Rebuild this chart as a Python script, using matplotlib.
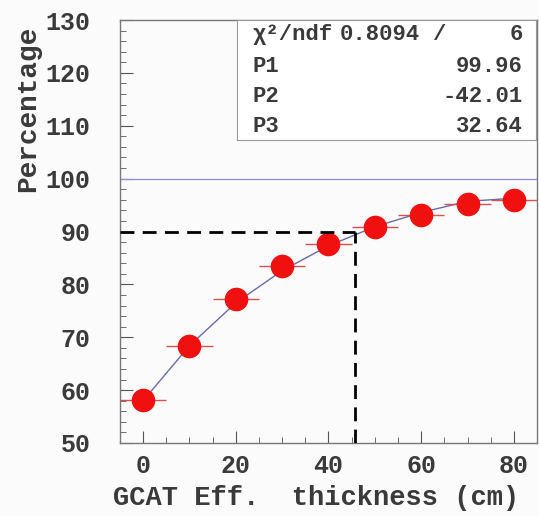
import matplotlib.pyplot as plt
from matplotlib.ticker import MultipleLocator

# data
thickness = [0, 10, 20, 30, 40, 50, 60, 70, 80]
percentage = [58.2, 68.3, 77.2, 83.4, 87.7, 90.8, 93.1, 95.2, 96.0]
x_err = [5, 5, 5, 5, 5, 5, 5, 5, 5]
fit_y = [58.0, 68.4, 76.5, 82.6, 87.3, 90.9, 93.6, 95.7, 96.3]
stat_labels = ["χ²/ndf", "P1", "P2", "P3"]
stat_values = ["6", "99.96", "-42.01", "32.64"]
chi2_value = "0.8094"
threshold = 90
cut_thickness = 45.7
reference_level = 100

mono = "Liberation Mono"
txt_col = "#3a3a3a"

fig = plt.figure(figsize=(5.39, 5.16), dpi=100)
fig.patch.set_facecolor("#fbfbfb")
ax = fig.add_axes([0.2226, 0.1415, 0.7737, 0.8197])
ax.set_facecolor("#fbfbfb")

ax.axhline(reference_level, color="#8c8cd8", lw=0.9)
ax.plot(thickness, fit_y, color="#6a6aa8", lw=1.0, zorder=3)
ax.errorbar(thickness, percentage, xerr=x_err, fmt="o", color="#f01010",
            ecolor="#d85050", elinewidth=1.0, markersize=16, capsize=0, zorder=4)

# 90% threshold guide lines
ax.plot([-5, cut_thickness], [threshold, threshold], color="black", lw=2, ls=(0, (5, 3)), zorder=5)
ax.plot([cut_thickness, cut_thickness], [50, threshold], color="black", lw=2, ls=(0, (5, 3)), zorder=5)

ax.set_xlim(-5, 85)
ax.set_ylim(50, 130)
ax.xaxis.set_major_locator(MultipleLocator(20))
ax.xaxis.set_minor_locator(MultipleLocator(5))
ax.yaxis.set_major_locator(MultipleLocator(10))
ax.yaxis.set_minor_locator(MultipleLocator(2))
ax.tick_params(which="both", direction="in", colors="#555555", labelcolor=txt_col,
               top=False, right=False)
ax.tick_params(which="major", length=9)
ax.tick_params(which="minor", length=4)
ax.tick_params(axis="y", pad=21)
ax.tick_params(axis="x", pad=8)
for lbl in ax.get_xticklabels() + ax.get_yticklabels():
    lbl.set_family(mono)
    lbl.set_fontsize(18)
    lbl.set_fontweight("bold")
for s in ax.spines.values():
    s.set_color("#777777")
    s.set_linewidth(1.0)

ax.set_xlabel("GCAT Eff.  thickness (cm)", fontsize=19.5, family=mono, color=txt_col,
              fontweight="bold")
ax.xaxis.set_label_coords(0.47, -0.1)
ax.set_ylabel("Percentage", fontsize=20, family=mono, color=txt_col, fontweight="bold")
ax.yaxis.set_label_coords(-0.19, 0.79)

# fit statistics box
box = fig.add_axes([237 / 539, 1 - 140 / 516, 299 / 539, 120 / 516])
box.set_xlim(0, 299)
box.set_ylim(120, 0)
box.set_xticks([])
box.set_yticks([])
box.set_facecolor("white")
for s in box.spines.values():
    s.set_color("#999999")
row_y = [14, 46, 76, 106]
for lab, val, y in zip(stat_labels, stat_values, row_y):
    box.text(16, y, lab, family=mono, fontsize=16, color=txt_col, va="center",
             fontweight="bold")
    box.text(286, y, val, family=mono, fontsize=16, color=txt_col, va="center",
             ha="right", fontweight="bold")
box.text(183, row_y[0], chi2_value, family=mono, fontsize=16, color=txt_col,
         va="center", ha="right", fontweight="bold")
box.text(195, row_y[0], "/", family=mono, fontsize=16, color=txt_col, va="center",
         fontweight="bold")

fig.savefig("out.png", dpi=100, facecolor=fig.get_facecolor())
